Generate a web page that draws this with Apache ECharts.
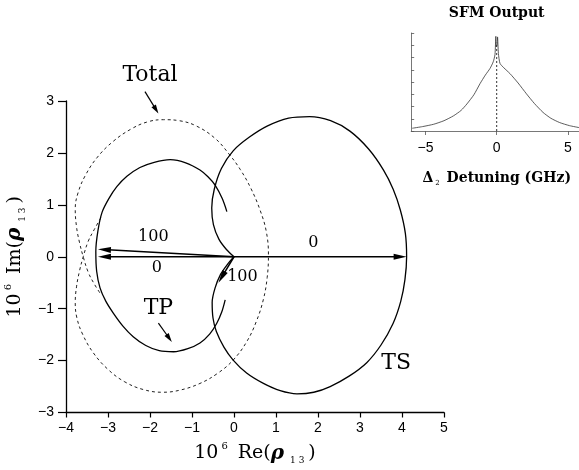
<!DOCTYPE html>
<html>
<head>
<meta charset="utf-8">
<script src="https://cdn.jsdelivr.net/npm/echarts@6/dist/echarts.min.js"></script>
<style>
  html, body { margin: 0; padding: 0; background: #fff; }
  #chart { width: 579px; height: 470px; }
</style>
</head>
<body>
<div id="chart"></div>
<script>
// Complex coherence rho13 (units of 1e-6): [Re, Im] traced against detuning
const tsCurve = [
  [0, 0], [-0.16, -0.15], [-0.32, -0.34], [-0.45, -0.6], [-0.52, -0.88], [-0.5, -1.18],
  [-0.42, -1.44], [-0.24, -1.74], [-0.02, -1.99], [0.3, -2.24], [0.7, -2.44], [1.1, -2.58],
  [1.5, -2.64], [1.9, -2.61], [2.29, -2.5], [2.74, -2.3], [3.16, -2.04], [3.5, -1.7],
  [3.79, -1.28], [3.97, -0.86], [4.07, -0.44], [4.11, 0], [4.08, 0.45], [3.96, 0.9],
  [3.79, 1.3], [3.56, 1.67], [3.2, 2.08], [2.76, 2.42], [2.3, 2.62], [1.8, 2.7],
  [1.3, 2.67], [0.8, 2.52], [0.36, 2.3], [-0.02, 2.04], [-0.3, 1.7], [-0.47, 1.3],
  [-0.53, 0.94], [-0.49, 0.62], [-0.36, 0.34], [-0.18, 0.14], [0, 0]
];
const tpCurve = [
  [-0.17, 0.87], [-0.28, 1.12], [-0.45, 1.38], [-0.62, 1.54], [-0.81, 1.67], [-1.15, 1.81],
  [-1.52, 1.87], [-1.9, 1.82], [-2.24, 1.72], [-2.55, 1.55], [-2.79, 1.35], [-2.98, 1.12],
  [-3.14, 0.86], [-3.24, 0.5], [-3.29, 0.1], [-3.27, -0.28], [-3.19, -0.6], [-3.05, -0.86],
  [-2.87, -1.09], [-2.65, -1.33], [-2.4, -1.54], [-2.1, -1.71], [-1.78, -1.81], [-1.44, -1.83],
  [-1.1, -1.77], [-0.81, -1.66], [-0.58, -1.49], [-0.41, -1.28], [-0.29, -1.06], [-0.21, -0.83]
];
const totalCurve = [
  [-3.17, 0.75], [-3.33, 0.52], [-3.47, 0.3], [-3.59, 0], [-3.68, -0.28], [-3.75, -0.58],
  [-3.78, -0.88], [-3.74, -1.18], [-3.6, -1.5], [-3.35, -1.85], [-3.0, -2.17], [-2.6, -2.41],
  [-2.15, -2.56], [-1.7, -2.61], [-1.29, -2.57], [-0.81, -2.44], [-0.38, -2.24], [-0.02, -1.99],
  [0.3, -1.64], [0.53, -1.25], [0.7, -0.82], [0.79, -0.4], [0.82, 0.03], [0.77, 0.48],
  [0.62, 0.9], [0.4, 1.32], [0.15, 1.68], [-0.12, 1.98], [-0.45, 2.28], [-0.9, 2.52],
  [-1.3, 2.62], [-1.68, 2.64], [-2.05, 2.6], [-2.45, 2.46], [-2.88, 2.22], [-3.25, 1.92],
  [-3.53, 1.58], [-3.71, 1.24], [-3.78, 0.92], [-3.75, 0.58], [-3.68, 0.28], [-3.59, 0],
  [-3.47, -0.3], [-3.33, -0.52], [-3.19, -0.7]
];

// Arrows [Re start, Im start, Re tip, Im tip]
const fieldArrows = [
  [0, 0, 4.11, 0],
  [0, 0, -3.24, 0],
  [0, 0, -3.24, 0.145],
  [0, 0, -0.37, -0.5]
];
const pointerArrows = [
  [-2.12, 3.18, -1.8, 2.76],
  [-1.8, -1.28, -1.48, -1.64]
];

// Text notes [text, Re, Im]
const curveNotes = [['Total', -2.0, 3.5], ['TP', -1.8, -1.0], ['TS', 3.86, -2.06]];
const valueNotes = [['100', -1.92, 0.39], ['0', -1.84, -0.22], ['100', 0.2, -0.39], ['0', 1.89, 0.26]];

// Axis ticks
const reTicks = [-4, -3, -2, -1, 0, 1, 2, 3, 4, 5];
const imTicks = [-3, -2, -1, 0, 1, 2, 3];

// SFM output spectrum vs detuning (GHz)
const sfmDetuning = [-5.93, -5.2, -4.42, -3.7, -3.03, -2.5, -2.09, -1.6, -1.17, -0.8, -0.47, -0.24,
  -0.12, -0.06, -0.03, 0.03, 0.06, 0.12, 0.23, 0.5, 0.93, 1.5, 2.09, 2.65, 3.25, 3.8, 4.42, 5.1, 5.81];
const sfmSignal = [0.028, 0.045, 0.069, 0.105, 0.155, 0.21, 0.276, 0.37, 0.483, 0.57, 0.638, 0.707,
  0.78, 0.966, 0.86, 0.88, 0.96, 0.79, 0.69, 0.645, 0.586, 0.49, 0.379, 0.28, 0.19, 0.13, 0.086, 0.055, 0.034];
const sfmCenter = [[0, 0], [0, 0.9]];
const detuningTicks = [-6, -5, 0, 5, 6];

const ink = '#000';
const serif = 'DejaVu Serif';
const sans = 'Liberation Sans';
const minus = v => String(v).replace('-', '\u2212');

function arrowRenderer(headLen, headHalf, width) {
  return function (params, api) {
    const a = api.coord([api.value(0), api.value(1)]);
    const b = api.coord([api.value(2), api.value(3)]);
    const dx = b[0] - a[0], dy = b[1] - a[1];
    const len = Math.hypot(dx, dy) || 1;
    const ux = dx / len, uy = dy / len;
    const bx = b[0] - ux * headLen, by = b[1] - uy * headLen;
    return {
      type: 'group',
      children: [
        { type: 'line', shape: { x1: a[0], y1: a[1], x2: bx + ux * 3, y2: by + uy * 3 },
          style: { stroke: ink, lineWidth: width } },
        { type: 'polygon',
          shape: { points: [[b[0], b[1]], [bx - uy * headHalf, by + ux * headHalf], [bx + uy * headHalf, by - ux * headHalf]] },
          style: { fill: ink } }
      ]
    };
  };
}

const titleRich = {
  n: { fontFamily: serif, fontSize: 19, color: ink, lineHeight: 24 },
  sup: { fontFamily: serif, fontSize: 10, color: ink, verticalAlign: 'top', lineHeight: 24, padding: [0, 10, 0, 3] },
  rho: { fontFamily: serif, fontSize: 20, fontStyle: 'italic', fontWeight: 'bold', color: ink, lineHeight: 24 },
  sub: { fontFamily: serif, fontSize: 9, color: ink, verticalAlign: 'bottom', lineHeight: 19, padding: [0, 4, 0, 6] }
};

function noteSeries(notes, fontSize) {
  return {
    type: 'scatter', xAxisIndex: 0, yAxisIndex: 0, clip: false, symbolSize: 1,
    itemStyle: { color: 'rgba(0,0,0,0)', opacity: 1 },
    data: notes.map(d => ({ name: d[0], value: [d[1], d[2]] })),
    label: { show: true, position: 'inside', formatter: p => p.name,
      fontFamily: serif, fontSize: fontSize, color: ink, opacity: 1,
      textBorderWidth: 0 },
    z: 5
  };
}

const option = {
  animation: false,
  backgroundColor: '#fff',
  grid: [
    { left: 66, top: 101, width: 378, height: 311.5, containLabel: false, outerBoundsMode: 'none' },
    { left: 411.2, top: 33, width: 171, height: 98, containLabel: false, outerBoundsMode: 'none' }
  ],
  xAxis: [
    {
      gridIndex: 0, type: 'value', min: reTicks[0], max: reTicks[reTicks.length - 1], interval: 1,
      axisLine: { onZero: false, lineStyle: { color: ink, width: 1.3 } },
      axisTick: { length: 5, lineStyle: { color: ink, width: 1.2 } },
      axisLabel: { margin: 9, color: ink, fontFamily: sans, fontSize: 14, formatter: minus },
      splitLine: { show: false },
      name: '{n|10}{sup|6}{n|Re(}{rho|ρ}{sub|1 3}{n|)}',
      nameLocation: 'middle', nameGap: 29,
      nameTextStyle: { rich: titleRich }
    },
    {
      gridIndex: 1, type: 'value', min: detuningTicks[0], max: detuningTicks[detuningTicks.length - 1],
      axisLine: { onZero: false, lineStyle: { color: '#555', width: 0.8 } },
      axisTick: { customValues: detuningTicks.slice(1, -1), length: 4, lineStyle: { color: '#555', width: 0.8 } },
      axisLabel: { customValues: detuningTicks.slice(1, -1), margin: 10, color: ink, fontFamily: sans, fontSize: 14, formatter: minus },
      splitLine: { show: false },
      name: '{d|Δ}{s|2}{d| Detuning (GHz)}',
      nameLocation: 'middle', nameGap: 38,
      nameTextStyle: {
        rich: {
          d: { fontFamily: serif, fontSize: 14, fontWeight: 'bold', color: ink, lineHeight: 18 },
          s: { fontFamily: serif, fontSize: 7, color: ink, verticalAlign: 'bottom', lineHeight: 15, padding: [0, 2, 0, 2] }
        }
      }
    }
  ],
  yAxis: [
    {
      gridIndex: 0, type: 'value', min: imTicks[0], max: imTicks[imTicks.length - 1], interval: 1,
      axisLine: { onZero: false, lineStyle: { color: ink, width: 1.3 } },
      axisTick: { length: 8, lineStyle: { color: ink, width: 1.2 } },
      axisLabel: { margin: 12, color: ink, fontFamily: sans, fontSize: 14, formatter: minus },
      splitLine: { show: false },
      name: '{n|10}{sup|6}{n|Im(}{rho|ρ}{sub|1 3}{n|)}',
      nameLocation: 'middle', nameRotate: 90, nameGap: 26,
      nameTextStyle: { rich: titleRich }
    },
    {
      gridIndex: 1, type: 'value', min: 0, max: 1, interval: 0.125,
      axisLine: { onZero: false, lineStyle: { color: '#555', width: 0.8 } },
      axisTick: { inside: true, length: 3, lineStyle: { color: '#555', width: 0.8 } },
      axisLabel: { show: false },
      splitLine: { show: false }
    }
  ],
  graphic: [
    { type: 'text', x: 496.7, y: 13,
      style: { text: 'SFM Output', align: 'center', verticalAlign: 'middle',
        font: 'bold 14px "DejaVu Serif"', fill: ink } }
  ],
  series: [
    {
      name: 'Total', type: 'line', xAxisIndex: 0, yAxisIndex: 0, data: totalCurve,
      showSymbol: false, smooth: 0.4, clip: false,
      lineStyle: { color: '#222', width: 1, type: [3, 3] }
    },
    {
      name: 'TP', type: 'line', xAxisIndex: 0, yAxisIndex: 0, data: tpCurve,
      showSymbol: false, smooth: 0.3, clip: false,
      lineStyle: { color: ink, width: 1.3 }
    },
    {
      name: 'TS', type: 'line', xAxisIndex: 0, yAxisIndex: 0, data: tsCurve,
      showSymbol: false, smooth: 0.3, clip: false,
      lineStyle: { color: ink, width: 1.3 }
    },
    {
      type: 'custom', xAxisIndex: 0, yAxisIndex: 0, data: fieldArrows, clip: false,
      encode: { x: [0, 2], y: [1, 3] },
      renderItem: arrowRenderer(13, 3, 1.5)
    },
    {
      type: 'custom', xAxisIndex: 0, yAxisIndex: 0, data: pointerArrows, clip: false,
      encode: { x: [0, 2], y: [1, 3] },
      renderItem: arrowRenderer(9, 2.6, 1.2)
    },
    noteSeries(curveNotes, 22),
    noteSeries(valueNotes, 16),
    {
      name: 'SFM', type: 'line', xAxisIndex: 1, yAxisIndex: 1,
      data: sfmDetuning.map((x, i) => [x, sfmSignal[i]]),
      showSymbol: false, smooth: 0.2, clip: false,
      lineStyle: { color: '#333', width: 0.8 }
    },
    {
      type: 'line', xAxisIndex: 1, yAxisIndex: 1, data: sfmCenter,
      showSymbol: false, lineStyle: { color: '#333', width: 1, type: [2, 2] }
    }
  ]
};

const chart = echarts.init(document.getElementById('chart'));
chart.setOption(option);
</script>
</body>
</html>
